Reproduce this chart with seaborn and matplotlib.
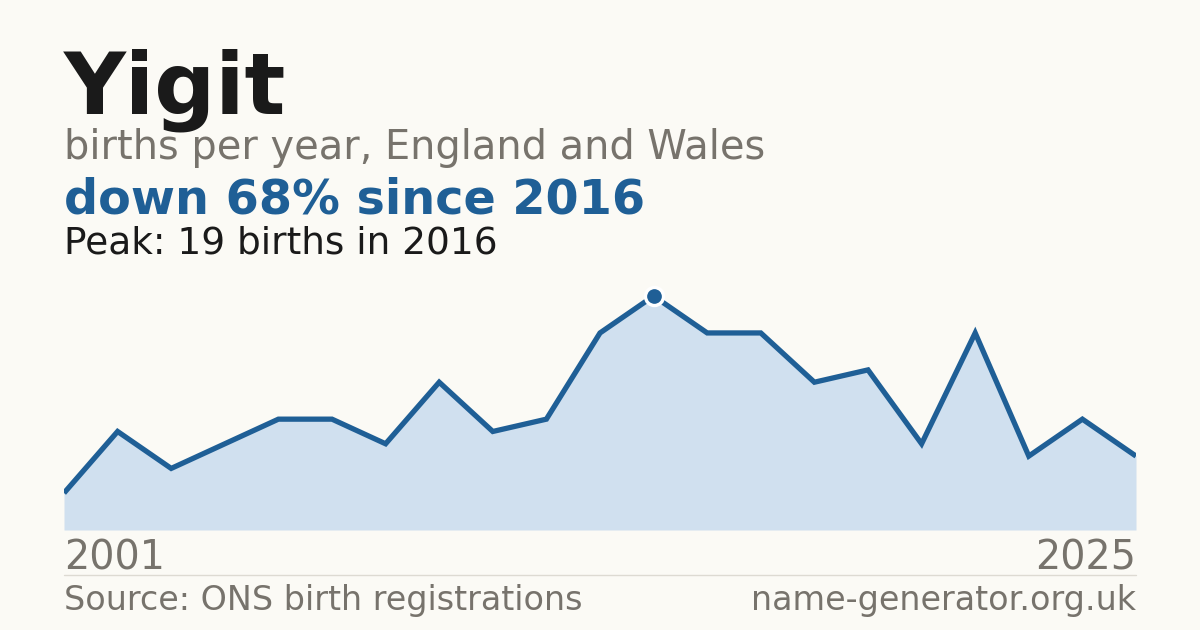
import matplotlib
matplotlib.use("Agg")
import matplotlib.pyplot as plt
import seaborn as sns
import pandas as pd
import numpy as np

# Data (years shown with available data; plotted by sequence position)
years = [2001, 2003, 2004, 2006, 2007, 2008, 2009, 2010, 2012, 2013, 2015,
         2016, 2017, 2018, 2019, 2020, 2021, 2022, 2023, 2024, 2025]
births = [3, 8, 5, 7, 9, 9, 7, 12, 8, 9, 16, 19, 16, 16, 12, 13, 7, 16, 6, 9, 6]

title = "Yigit"
subtitle = "births per year, England and Wales"
headline = "down 68% since 2016"
peak_text = "Peak: 19 births in 2016"
source_text = "Source: ONS birth registrations"
site_text = "name-generator.org.uk"

BG = "#FBFAF5"
BLUE = "#1F5F96"
FILL = "#D0E0EF"
GRAY = "#77736C"
DARK = "#1A1A1A"

sns.set_theme(style="white")
plt.rcParams['font.family'] = ['DejaVu Sans']

W, H = 1200, 630
fig = plt.figure(figsize=(W / 100, H / 100), dpi=100, facecolor=BG)

df = pd.DataFrame({"idx": np.arange(len(years)), "year": years, "births": births})

left, right, base, top = 64, 1136, 530, 296
ax = fig.add_axes([left / W, (H - base) / H, (right - left) / W, (base - top) / H])
ax.set_facecolor(BG)
ax.patch.set_alpha(0)
ax.fill_between(df["idx"], df["births"], 0, color=FILL, linewidth=0, zorder=1)
sns.lineplot(data=df, x="idx", y="births", ax=ax, color=BLUE, linewidth=3.8,
             zorder=2, solid_capstyle="butt", solid_joinstyle="miter")
pk = int(np.argmax(births))
ax.plot([df["idx"][pk]], [births[pk]], marker="o", markersize=13,
        markerfacecolor=BLUE, markeredgecolor="white", markeredgewidth=2.4,
        zorder=5, clip_on=False, linestyle="none")
ax.set_xlim(0, len(years) - 1)
ax.set_ylim(0, max(births))
ax.axis("off")

def ftext(x, y, s, **kw):
    fig.text(x / W, 1 - y / H, s, va="baseline", **kw)

ftext(64, 113, title, fontsize=61.6, fontweight="bold", color=DARK)
ftext(64, 159, subtitle, fontsize=28.7, color=GRAY)
ftext(64, 214, headline, fontsize=34.4, fontweight="bold", color=BLUE)
ftext(64, 253, peak_text, fontsize=27, color=DARK)
ftext(64, 570, str(years[0]), fontsize=28.5, color=GRAY)
ftext(1136, 570, str(years[-1]), fontsize=28.5, color=GRAY, ha="right")
ftext(64, 610, source_text, fontsize=24, color=GRAY)
ftext(1136, 610, site_text, fontsize=24, color=GRAY, ha="right")

fig.add_artist(plt.Line2D([64 / W, 1136 / W], [1 - 574.5 / H, 1 - 574.5 / H],
                          color="#DDDAD2", linewidth=1))

fig.savefig("out.png", dpi=100, facecolor=BG)
